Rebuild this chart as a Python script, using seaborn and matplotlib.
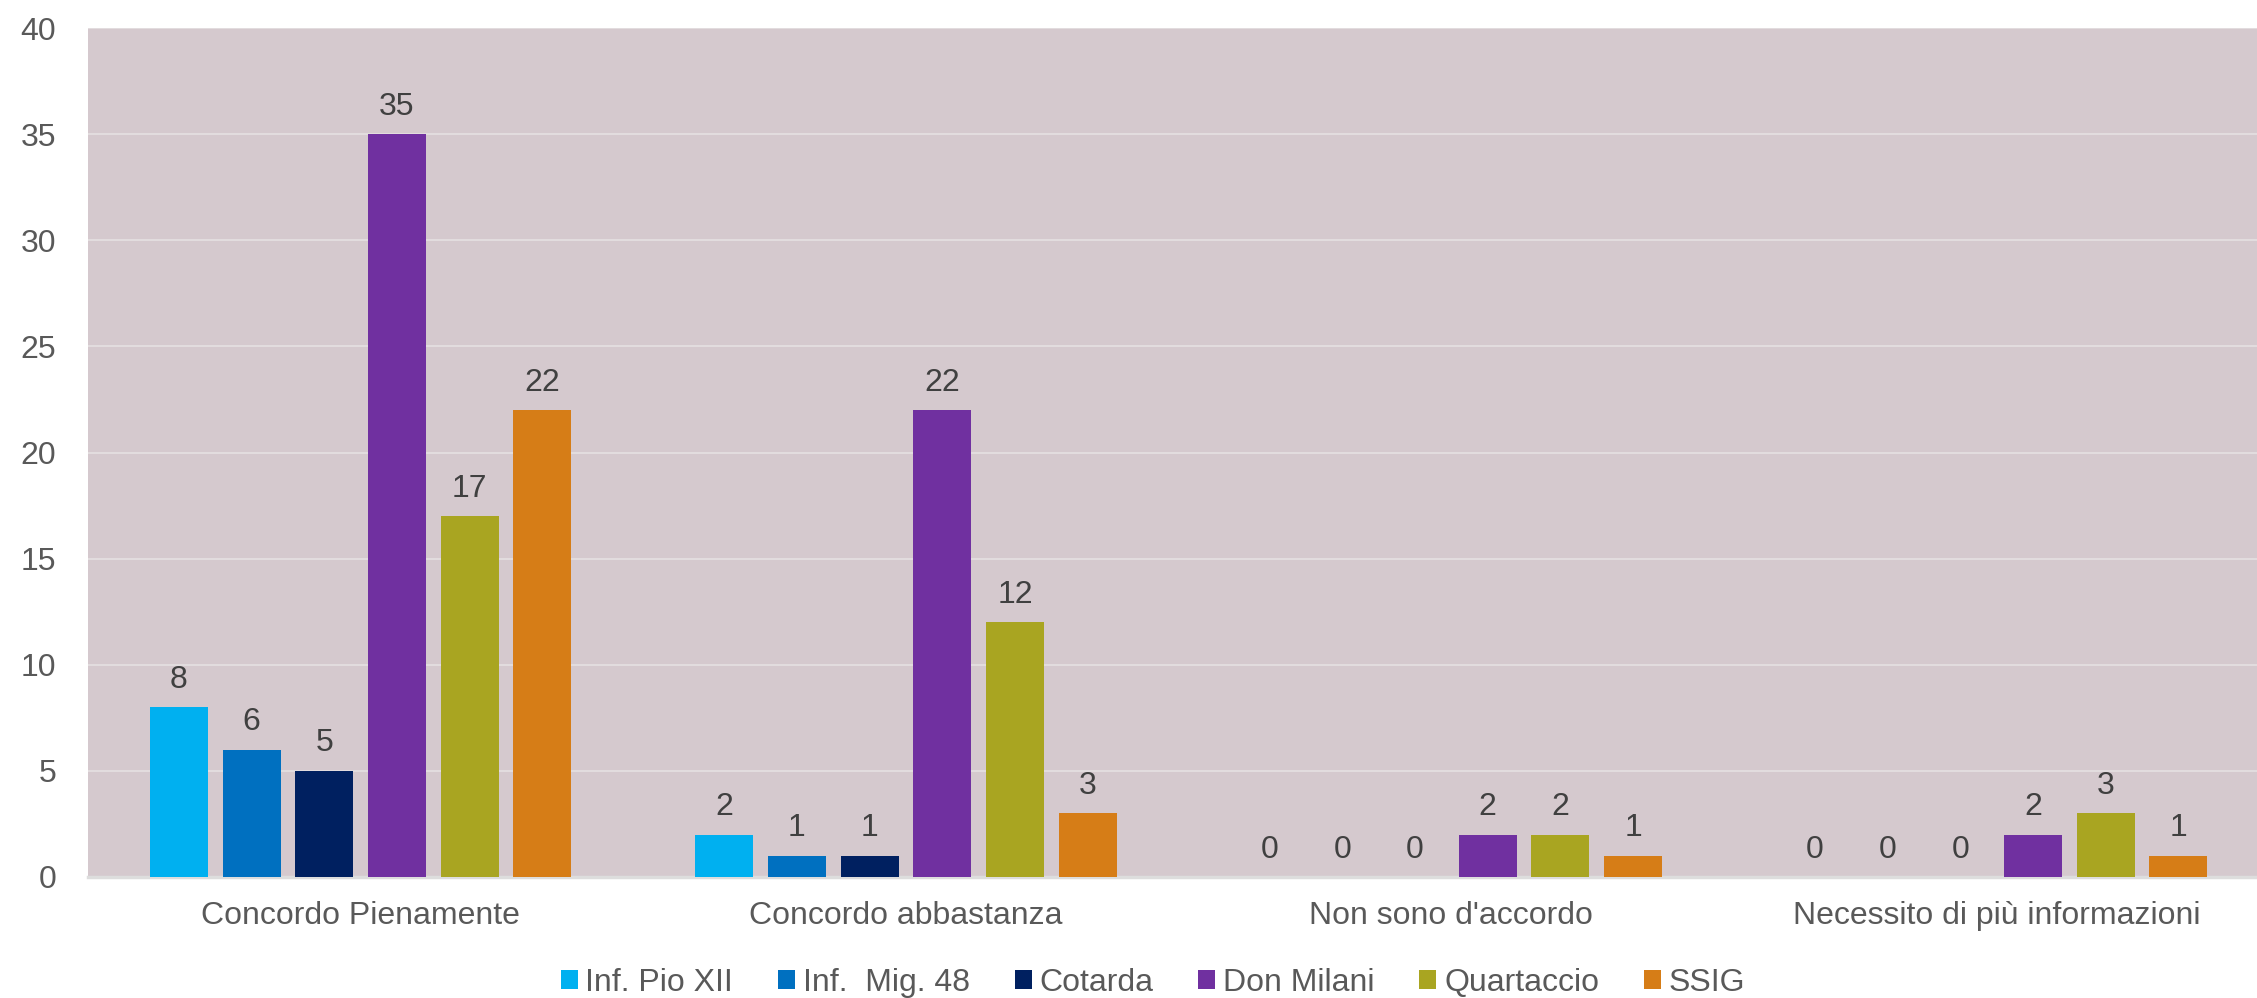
import numpy as np
import pandas as pd
import matplotlib
import matplotlib.pyplot as plt
import seaborn as sns

matplotlib.use("Agg")

# Data
categories = ["Concordo Pienamente", "Concordo abbastanza", "Non sono d'accordo",
              "Necessito di più informazioni"]
schools = ["Inf. Pio XII", "Inf.  Mig. 48", "Cotarda", "Don Milani", "Quartaccio", "SSIG"]
pio_xii    = [8, 2, 0, 0]
mig_48     = [6, 1, 0, 0]
cotarda    = [5, 1, 0, 0]
don_milani = [35, 22, 2, 2]
quartaccio = [17, 12, 2, 3]
ssig       = [22, 3, 1, 1]

colors = ["#00B0F0", "#0070C0", "#002060", "#7030A0", "#A9A521", "#D67D17"]
PLOT_BG = "#D5C9CE"
TEXT = "#595959"
FS = 23

sns.set_theme(style="white")
plt.rcParams["font.family"] = ["Liberation Sans", "DejaVu Sans"]

series = [pio_xii, mig_48, cotarda, don_milani, quartaccio, ssig]
df = pd.DataFrame({
    "categoria": np.tile(categories, len(schools)),
    "scuola": np.repeat(schools, len(categories)),
    "valore": np.concatenate(series),
})

W, H = 2257, 998
fig = plt.figure(figsize=(W / 100, H / 100), dpi=100)
ax = fig.add_axes([88 / W, 1 - 877 / H, (W - 88) / W, (877 - 28) / H])
ax.set_facecolor(PLOT_BG)

sns.barplot(data=df, x="categoria", y="valore", hue="scuola", order=categories,
            hue_order=schools, palette=colors, width=0.8, gap=0.2, saturation=1,
            linewidth=0, ax=ax, zorder=3)

for cont in ax.containers:
    ax.bar_label(cont, fmt="%d", padding=9, fontsize=FS, color="#404040")

# the chart's plot area is cut at the right edge of the image
ax.set_xlim(-0.5, -0.5 + (W - 88) / 545.3)
ax.set_ylim(0, 40)
ax.set_yticks(range(0, 41, 5))
ax.yaxis.grid(True, color="#E2DCDE", linewidth=1.5, zorder=0)
ax.set_axisbelow(True)
for side in ["top", "right", "left"]:
    ax.spines[side].set_visible(False)
ax.spines["bottom"].set_color("#DDDDDD")
ax.spines["bottom"].set_linewidth(2.5)
ax.set_xlabel("")
ax.set_ylabel("")
ax.tick_params(axis="both", labelsize=FS, colors=TEXT, length=0)
ax.tick_params(axis="x", pad=17)
ax.tick_params(axis="y", pad=23)

handles, labels = ax.get_legend_handles_labels()
ax.legend_.remove()
fig.legend(handles, labels, loc="center", bbox_to_anchor=(1153 / W, 1 - 983 / H), ncol=6,
           frameon=False, fontsize=FS, labelcolor=TEXT, handlelength=0.53,
           handleheight=0.53, handletextpad=0.25, columnspacing=1.4)

fig.savefig("out.png", dpi=100, facecolor="white")
